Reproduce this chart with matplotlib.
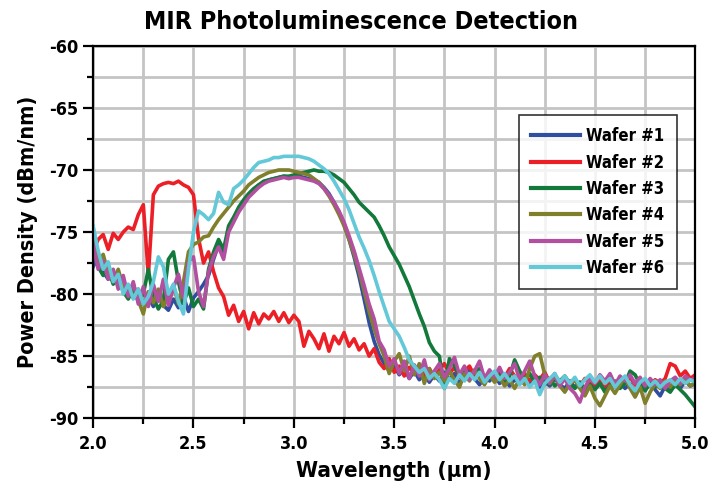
import numpy as np
import matplotlib
matplotlib.use("Agg")
import matplotlib.pyplot as plt
from matplotlib.ticker import MultipleLocator

plt.rcParams['font.family'] = ['DejaVu Sans']
plt.rcParams['font.stretch'] = 'condensed'
plt.rcParams['axes.unicode_minus'] = False

# wavelength grid (um), 0.025 step
wavelength = np.round(np.arange(2.0, 5.0001, 0.025), 3)

wafer1 = [
    -77.8, -77.0, -78.2, -78.8, -78.5, -79.3, -79.0, -79.8, -80.3, -79.6,
    -80.8, -80.2, -81.0, -80.1, -80.9, -81.3, -80.4, -81.1, -80.2, -81.4,
    -80.3, -79.8, -79.2, -78.5, -77.2, -76.0, -76.6, -74.8, -74.0, -73.3,
    -72.5, -72.0, -71.6, -71.2, -71.0, -70.8, -70.7, -70.6, -70.5, -70.6,
    -70.5, -70.5, -70.6, -70.7, -70.8, -71.0, -71.4, -71.9, -72.6, -73.4,
    -74.4, -75.6, -77.0, -78.6, -80.4, -82.3, -83.8, -84.9, -85.6, -86.2,
    -85.8, -86.5, -86.0, -86.8, -86.2, -86.9, -86.4, -87.1, -86.5, -87.0,
    -86.3, -86.9, -86.4, -87.2, -86.6, -86.1, -86.8, -87.3, -86.7, -87.0,
    -86.5, -87.2, -86.8, -87.4, -86.9, -87.1, -86.6, -87.3, -86.9, -87.5,
    -87.0, -87.4, -86.8, -87.3, -87.6, -87.0, -87.5, -87.1, -87.7, -87.2,
    -87.6, -87.0, -87.8, -87.3, -87.5, -87.0, -87.6, -87.2, -87.9, -87.3,
    -87.6, -87.1, -87.7, -88.2, -87.4, -87.8, -87.2, -87.6, -87.0, -87.4,
    -87.2,
]
wafer2 = [
    -76.5, -75.6, -75.2, -76.4, -75.1, -75.6, -75.0, -74.6, -74.8, -73.6,
    -72.8, -78.5, -72.0, -71.3, -71.1, -71.0, -71.1, -70.9, -71.2, -71.4,
    -72.0, -75.5, -77.5, -76.6, -78.2, -79.5, -80.2, -81.7, -80.9, -82.2,
    -81.4, -82.8, -81.5, -82.4, -81.6, -82.0, -81.4, -82.2, -81.5, -82.3,
    -81.7, -82.2, -84.2, -83.0, -83.6, -84.4, -83.2, -84.6, -83.4, -84.0,
    -83.1, -84.2, -83.6, -84.5, -84.0, -85.0, -84.4, -85.5, -86.0, -85.2,
    -86.3, -85.8, -86.6, -85.9, -86.4, -85.7, -86.5, -86.0, -86.7, -86.1,
    -85.6, -86.4, -85.9, -86.7, -86.2, -85.8, -86.6, -86.1, -86.9, -86.3,
    -86.8, -86.2, -86.7, -86.0, -86.6, -86.9, -86.4, -87.0, -86.5, -86.9,
    -86.3, -87.1, -86.6, -87.0, -86.8, -87.3, -86.9, -87.4, -86.8, -87.2,
    -87.5, -87.0, -87.4, -86.9, -87.3, -86.8, -87.2, -86.7, -87.3, -87.6,
    -87.0, -87.4, -86.9, -87.2, -86.8, -85.6, -85.8, -86.6, -86.2, -86.8,
    -86.5,
]
wafer3 = [
    -76.5, -77.8, -78.5, -78.0, -79.2, -78.6, -79.8, -80.4, -79.5, -80.6,
    -80.0, -78.0, -80.3, -81.2, -80.5, -77.2, -76.6, -79.0, -80.8, -79.5,
    -81.0, -80.4, -81.2, -78.0, -76.6, -75.6, -76.4, -74.5, -73.8, -73.0,
    -72.4, -71.9, -71.5, -71.2, -70.9, -70.8, -70.7, -70.6, -70.5, -70.5,
    -70.4, -70.3, -70.2, -70.1, -70.0, -70.1, -70.1, -70.2, -70.4, -70.7,
    -71.0, -71.5, -72.0, -72.6, -73.0, -73.4, -73.8, -74.5, -75.3, -76.2,
    -76.9, -77.6, -78.5, -79.4, -80.5, -81.6, -82.6, -83.9, -84.6, -85.0,
    -87.6, -85.2, -85.8, -86.6, -86.0, -86.8, -86.3, -86.0, -86.9, -86.4,
    -87.0, -86.5, -87.2, -86.6, -85.3, -86.2, -86.9, -86.4, -87.1, -86.7,
    -87.3, -86.8, -87.4, -87.0, -86.6, -87.2, -87.6, -87.1, -87.8, -87.3,
    -87.7, -87.2, -87.9, -87.4, -87.0, -87.6, -87.2, -86.2, -86.5, -87.3,
    -87.8, -87.2, -87.5, -87.0, -87.6, -87.9, -87.3, -87.7, -88.1, -88.6,
    -89.1,
]
wafer4 = [
    -75.0, -77.5, -76.8, -78.3, -78.9, -78.0, -79.4, -80.0, -79.2, -80.5,
    -81.6, -79.8, -80.7, -79.6, -81.0, -80.2, -79.3, -80.8, -79.0, -76.6,
    -76.0, -75.8, -75.4, -75.3, -74.6, -74.0, -73.5, -73.0, -72.5, -72.1,
    -71.7, -71.2, -70.9, -70.6, -70.4, -70.2, -70.1, -70.0, -70.0, -70.0,
    -70.1, -70.2, -70.3, -70.4, -70.7, -71.0, -71.5, -72.1, -72.8, -73.6,
    -74.5, -75.6, -76.8, -78.2, -79.8, -81.4, -82.8, -84.0, -85.0, -86.4,
    -85.4, -84.8, -86.2, -85.0, -86.5, -85.6, -87.2, -86.0, -86.8, -86.3,
    -87.0, -86.2, -86.9, -87.5, -86.4, -87.0, -86.1, -86.8, -87.3, -86.5,
    -87.1, -86.7, -87.4, -86.9, -87.6, -86.8, -87.3, -86.0, -85.0, -84.8,
    -86.5, -87.2, -86.6, -87.4, -87.9, -87.2, -86.9, -87.6, -88.2, -87.4,
    -88.4, -89.0, -88.2, -87.4, -88.0, -87.3, -86.7, -87.6, -88.3, -87.5,
    -88.8, -87.9, -87.2, -87.6, -87.0, -87.5, -86.9, -87.3, -86.8, -87.4,
    -87.1,
]
wafer5 = [
    -76.0, -78.0, -77.3, -78.8, -78.0, -79.6, -78.5, -80.2, -79.0, -80.8,
    -79.4, -81.0, -79.2, -80.6, -78.8, -80.9, -79.5, -78.4, -80.3, -77.4,
    -77.0, -79.8, -81.0, -78.2, -77.0, -76.2, -77.2, -75.0, -74.2, -73.4,
    -72.8, -72.2, -71.8, -71.4, -71.1, -70.9, -70.8, -70.7, -70.6, -70.7,
    -70.6, -70.6, -70.7, -70.8, -70.9, -71.1, -71.5, -72.0, -72.6, -73.3,
    -74.2, -75.3, -76.5, -77.9, -79.3, -80.8, -82.0, -83.8, -84.5, -85.8,
    -85.2, -86.4, -85.4, -86.8, -85.7, -86.6, -85.3, -86.9, -86.2, -85.6,
    -86.7, -86.0, -85.1, -86.5, -85.8, -86.9, -86.2, -85.4, -86.8, -86.1,
    -86.7, -85.9, -86.8, -86.3, -85.6, -86.9, -86.2, -85.4, -86.6, -87.3,
    -86.5, -87.1, -86.4, -87.4, -86.8, -87.6, -88.0, -88.7, -87.5, -86.8,
    -87.2, -86.5, -87.0, -86.4, -87.3, -86.6, -87.0, -86.5, -87.2, -86.7,
    -87.4, -86.8, -87.3, -86.9, -87.6, -87.0, -86.7, -87.2, -86.6, -86.9,
    -86.8,
]
wafer6 = [
    -74.5, -76.5, -78.0, -77.4, -79.0, -78.4, -80.0, -79.2, -80.4, -79.6,
    -80.8, -80.2, -79.0, -77.0, -77.8, -80.0, -79.2, -80.6, -81.6, -78.0,
    -75.0, -73.3, -73.6, -74.0, -73.5, -71.8, -72.6, -72.8, -71.5, -71.2,
    -70.8, -70.3, -69.8, -69.4, -69.3, -69.2, -69.0, -69.0, -68.9, -68.9,
    -68.9, -68.9, -69.0, -69.1, -69.3, -69.6, -69.9, -70.3, -70.9, -71.6,
    -72.3, -73.2, -74.3, -75.4, -76.3, -77.3, -78.5, -79.8, -81.0, -82.2,
    -82.8, -83.4, -84.3, -85.3, -85.8, -86.3, -86.0, -86.8, -86.4, -86.9,
    -87.6, -86.8, -87.2, -86.5, -87.0, -86.4, -86.9, -86.3, -87.1, -86.6,
    -86.2, -86.9, -86.4, -87.0, -86.6, -87.3, -86.8, -87.5, -87.0, -88.1,
    -87.2, -86.8, -86.4, -87.1, -86.6, -87.2, -86.7, -87.4, -86.9, -86.5,
    -87.1, -86.6, -87.2, -86.8, -87.5, -87.0, -86.6, -87.3, -87.8, -87.1,
    -86.8, -87.4, -87.0, -87.5, -87.1, -86.9, -87.3, -86.8, -87.2, -86.9,
    -87.1,
]

labels = ["Wafer #1", "Wafer #2", "Wafer #3", "Wafer #4", "Wafer #5", "Wafer #6"]
colors = ["#2f4ea0", "#ec1f27", "#12793b", "#7f7f2c", "#b24f9f", "#63c8d8"]

fig = plt.figure(figsize=(7.22, 4.88), dpi=100)
ax = fig.add_axes([0.129, 0.143, 0.834, 0.763])

for ys, lbl, c in zip([wafer1, wafer2, wafer3, wafer4, wafer5, wafer6], labels, colors):
    ax.plot(wavelength, ys, color=c, lw=2.6, label=lbl)

ax.set_xlim(2.0, 5.0)
ax.set_ylim(-90, -60)
ax.xaxis.set_major_locator(MultipleLocator(0.5))
ax.xaxis.set_minor_locator(MultipleLocator(0.25))
ax.yaxis.set_major_locator(MultipleLocator(5))
ax.yaxis.set_minor_locator(MultipleLocator(2.5))
ax.set_xticks(np.arange(2.0, 5.01, 0.5))
ax.set_xticklabels([f"{v:.1f}" for v in np.arange(2.0, 5.01, 0.5)])
ax.grid(which="both", color="#c4c4c4", lw=2.0, zorder=0)
ax.set_axisbelow(True)
ax.tick_params(which="major", direction="out", length=7, width=1.6, labelsize=13)
ax.tick_params(axis="x", which="major", pad=5)
ax.tick_params(which="minor", direction="out", length=4, width=1.6)
for lab in ax.get_xticklabels() + ax.get_yticklabels():
    lab.set_fontweight("bold")
for sp in ax.spines.values():
    sp.set_linewidth(1.6)

ax.set_xlabel("Wavelength (µm)", fontsize=16, fontweight="bold", labelpad=6)
ax.set_ylabel("Power Density (dBm/nm)", fontsize=15.5, fontweight="bold", labelpad=8)
fig.text(0.5, 0.955, "MIR Photoluminescence Detection", ha="center", va="center",
         fontsize=18, fontweight="bold")

leg = ax.legend(loc="upper right", bbox_to_anchor=(0.970, 0.815),
                prop={"size": 12, "weight": "bold"},
                frameon=True, fancybox=False, handlelength=2.9, labelspacing=0.5,
                borderpad=0.75, handletextpad=0.4, borderaxespad=0)
leg.get_frame().set_edgecolor("black")
leg.get_frame().set_linewidth(1.2)
for line in leg.get_lines():
    line.set_linewidth(3)

fig.savefig("out.png", dpi=100)
